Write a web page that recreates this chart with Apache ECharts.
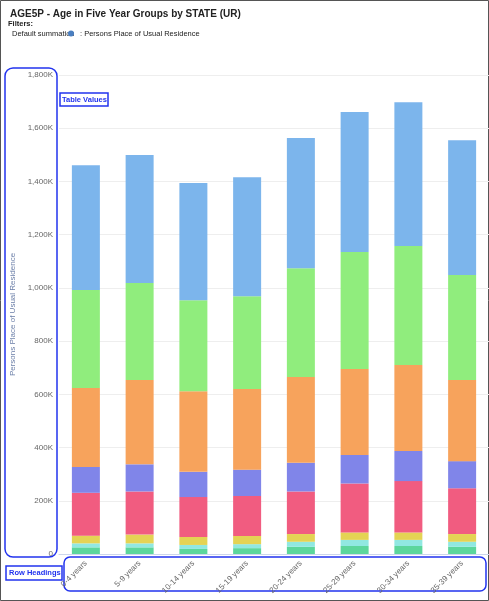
<!DOCTYPE html><html><head><meta charset="utf-8">
<script src="https://cdn.jsdelivr.net/npm/echarts@6/dist/echarts.min.js"></script>
<style>body{margin:0;background:#fff}#c{width:489px;height:601px}</style></head><body><div id="c"></div>
<script>
const categories=['0-4 years','5-9 years','10-14 years','15-19 years','20-24 years','25-29 years','30-34 years','35-39 years'];
const s1=[25,25,19,22,27,30,30,27];
const s2=[15,15,15,15,19,23,23,19];
const s3=[29,33,30,31,29,28,28,29];
const s4=[161,162,150,150,160,184,193,172];
const s5=[97,102,95,99,108,107,113,102];
const s6=[297,317,303,303,322,323,323,305];
const s7=[368,364,342,349,409,440,447,394];
const s8=[469,481,440,447,489,526,541,507];
const yTicks=[0,200,400,600,800,1000,1200,1400,1600,1800];
const colors=['#5cd69c','#91e8e1','#e4d354','#f15c80','#8085e9','#f7a35c','#90ed7d','#7cb5ec'];
const all=[s1,s2,s3,s4,s5,s6,s7,s8];
const c=echarts.init(document.getElementById('c'));
c.setOption({
animation:false,
title:{text:'AGE5P - Age in Five Year Groups by STATE (UR)',left:5,top:4,textStyle:{fontSize:10,fontWeight:'bold',color:'#222',fontFamily:'Liberation Sans'}},
grid:{left:59,width:460,top:75,bottom:47,containLabel:false},
xAxis:{type:'category',data:categories,axisTick:{show:false},axisLine:{lineStyle:{color:'#ccd6eb'}},
 axisLabel:{rotate:45,fontSize:8,color:'#666',fontFamily:'Liberation Sans',interval:0}},
yAxis:{type:'value',min:0,max:1800,interval:200,name:'Persons Place of Usual Residence',nameLocation:'middle',nameGap:40,
 nameTextStyle:{color:'#6b7fa8',fontSize:8,fontFamily:'Liberation Sans'},
 splitLine:{lineStyle:{color:'#eeeeee'}},
 axisLabel:{fontSize:8,margin:6,color:'#666',fontFamily:'Liberation Sans',formatter:v=>v===0?'0':(v>=1000?Math.floor(v/1000)+','+String(v%1000).padStart(3,'0'):v)+'K'}},
series:all.map((d,i)=>({type:'bar',stack:'a',data:d,barWidth:28,itemStyle:{color:colors[i]}})),
graphic:[
 {type:'rect',shape:{x:0.5,y:0.5,width:488,height:600},style:{fill:'none',stroke:'#555',lineWidth:1}},
 {type:'text',left:8,top:20,style:{text:'Filters:',font:'bold 7.5px Liberation Sans',fill:'#222'}},
 {type:'text',left:12,top:30,style:{text:'Default summation',font:'7.5px Liberation Sans',fill:'#222'}},
 {type:'circle',shape:{cx:71,cy:33.5,r:3},style:{fill:'#4a7fc1'}},
 {type:'text',left:80,top:30,style:{text:': Persons Place of Usual Residence',font:'7.5px Liberation Sans',fill:'#222'}},
 {type:'rect',shape:{x:5,y:68,width:52,height:489,r:8},style:{fill:'none',stroke:'#2233ee',lineWidth:1.5}},
 {type:'rect',shape:{x:60,y:93,width:48,height:13},style:{fill:'#fff',stroke:'#2233ee',lineWidth:1.5}},
 {type:'text',x:62,y:96,style:{text:'Table Values',font:'bold 7.5px Liberation Sans',fill:'#2233ee'}},
 {type:'rect',shape:{x:6,y:566,width:56,height:14},style:{fill:'#fff',stroke:'#2233ee',lineWidth:1.5}},
 {type:'text',x:9,y:569,style:{text:'Row Headings',font:'bold 7.5px Liberation Sans',fill:'#2233ee'}},
 {type:'rect',shape:{x:64,y:557,width:422,height:34,r:6},style:{fill:'none',stroke:'#2233ee',lineWidth:1.5}}
]});
</script></body></html>
